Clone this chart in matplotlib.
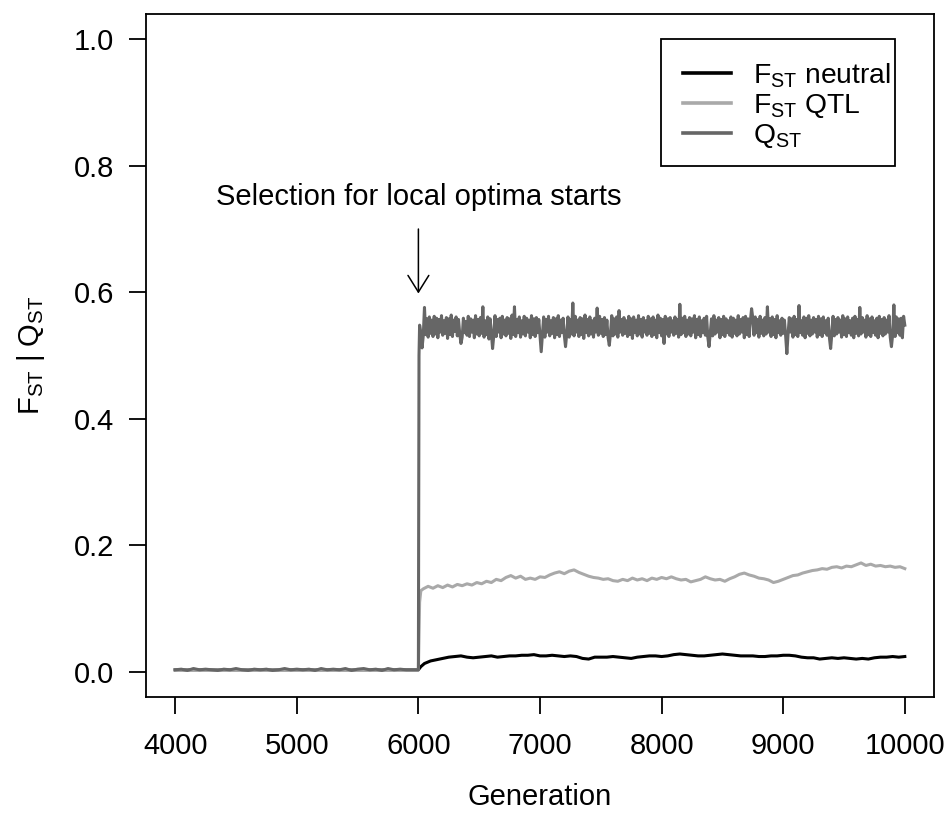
import numpy as np
import matplotlib
matplotlib.use("Agg")
import matplotlib.pyplot as plt
from matplotlib.patches import Rectangle

plt.rcParams['font.family'] = ['Liberation Sans', 'DejaVu Sans']
plt.rcParams['mathtext.fontset'] = 'custom'
plt.rcParams['mathtext.rm'] = 'Liberation Sans'
plt.rcParams['mathtext.it'] = 'Liberation Sans:italic'

# Values
# before selection: all three series sit near 0.003
pre_gen = [4000, 5000, 6000]
neutral_pre = [0.003, 0.003, 0.003]
qtl_pre = [0.003, 0.003, 0.003]

# neutral FST after 6000 (gen 6020, then every 50 generations from 6050)
neutral_jump = [0.008]
neutral_post = [0.013, 0.017, 0.019, 0.021, 0.023, 0.024, 0.025, 0.023, 0.022, 0.023,
                0.024, 0.025, 0.023, 0.024, 0.025, 0.025, 0.026, 0.026, 0.027, 0.025,
                0.025, 0.026, 0.025, 0.024, 0.025, 0.024, 0.021, 0.020, 0.023, 0.023,
                0.023, 0.024, 0.023, 0.022, 0.021, 0.023, 0.024, 0.025, 0.025, 0.024,
                0.025, 0.027, 0.028, 0.027, 0.026, 0.025, 0.025, 0.026, 0.027, 0.028,
                0.027, 0.026, 0.025, 0.025, 0.025, 0.024, 0.024, 0.025, 0.025, 0.026,
                0.026, 0.025, 0.023, 0.022, 0.022, 0.020, 0.021, 0.022, 0.021, 0.022,
                0.021, 0.020, 0.021, 0.020, 0.022, 0.023, 0.023, 0.024, 0.023, 0.024]

# FST QTL after 6000 (gens 6010, 6020, then every 40 generations from 6040)
qtl_jump = [0.110, 0.128]
qtl_post = [0.131, 0.135, 0.132, 0.136, 0.133, 0.137, 0.134, 0.138, 0.136, 0.139,
            0.137, 0.141, 0.139, 0.143, 0.141, 0.146, 0.144, 0.149, 0.152, 0.148,
            0.151, 0.146, 0.148, 0.146, 0.150, 0.149, 0.153, 0.156, 0.158, 0.155,
            0.159, 0.161, 0.157, 0.154, 0.151, 0.149, 0.148, 0.146, 0.147, 0.144,
            0.143, 0.146, 0.144, 0.148, 0.145, 0.147, 0.144, 0.148, 0.146, 0.149,
            0.147, 0.150, 0.147, 0.145, 0.146, 0.142, 0.144, 0.146, 0.150, 0.147,
            0.145, 0.146, 0.143, 0.147, 0.150, 0.154, 0.156, 0.153, 0.151, 0.148,
            0.147, 0.145, 0.141, 0.143, 0.146, 0.149, 0.152, 0.153, 0.156, 0.158,
            0.160, 0.161, 0.163, 0.162, 0.165, 0.166, 0.164, 0.167, 0.166, 0.169,
            0.172, 0.168, 0.170, 0.167, 0.168, 0.166, 0.167, 0.165, 0.166, 0.163]

# QST before 6000 (every 50 generations, in thousandths)
qst_pre_milli = [3, 4, 2, 5, 3, 4, 3, 2, 4, 3, 5, 3, 2, 4, 3, 4, 2, 3, 5, 3,
                 4, 3, 4, 2, 5, 3, 4, 3, 5, 2, 4, 5, 3, 4, 2, 5, 3, 4, 3, 3, 3]
qst_jump_milli = [500]                 # gen 6005
# QST after 6000 (every 10 generations from 6010 to 10000, in thousandths)
qst_post_milli = [
    548, 536, 512, 531, 576, 533, 558, 529, 561, 535,
    556, 530, 562, 534, 559, 528, 557, 537, 563, 532,
    555, 535, 560, 527, 558, 533, 564, 530, 556, 538,
    561, 531, 557, 534, 519, 529, 559, 536, 554, 532,
    562, 530, 558, 537, 556, 528, 563, 534, 557, 531,
    560, 535, 577, 529, 555, 533, 561, 526, 558, 536,
    511, 532, 563, 530, 557, 537, 559, 528, 562, 534,
    556, 531, 560, 535, 558, 527, 564, 533, 577, 530,
    557, 536, 561, 529, 555, 534, 562, 531, 559, 537,
    556, 528, 563, 533, 558, 530, 560, 536, 557, 532,
    506, 534, 561, 529, 557, 537, 562, 531, 555, 535,
    560, 528, 558, 533, 563, 530, 556, 536, 559, 532,
    514, 535, 561, 529, 557, 534, 583, 531, 562, 537,
    556, 530, 560, 533, 558, 527, 564, 536, 557, 531,
    561, 534, 555, 529, 559, 537, 575, 532, 562, 535,
    557, 530, 560, 533, 556, 528, 516, 536, 563, 531,
    558, 534, 561, 529, 571, 537, 557, 532, 560, 535,
    555, 530, 562, 533, 558, 527, 561, 536, 556, 531,
    563, 534, 557, 529, 560, 537, 555, 532, 562, 535,
    558, 530, 561, 533, 556, 528, 564, 536, 559, 531,
    557, 519, 562, 534, 558, 530, 560, 537, 555, 532,
    561, 535, 557, 529, 581, 533, 559, 536, 562, 530,
    556, 534, 560, 531, 558, 537, 563, 528, 557, 533,
    561, 530, 555, 536, 559, 532, 562, 529, 514, 535,
    558, 531, 563, 534, 556, 537, 560, 528, 557, 533,
    562, 530, 558, 536, 555, 532, 561, 529, 559, 535,
    556, 531, 563, 534, 557, 537, 560, 528, 562, 533,
    558, 530, 555, 574, 559, 532, 561, 536, 557, 529,
    562, 535, 556, 531, 560, 534, 577, 537, 558, 530,
    561, 533, 557, 528, 563, 536, 555, 532, 559, 535,
    556, 531, 503, 534, 560, 537, 558, 529, 562, 533,
    557, 530, 579, 536, 555, 532, 561, 528, 559, 535,
    563, 531, 556, 534, 560, 537, 557, 529, 562, 533,
    558, 530, 561, 536, 555, 532, 559, 528, 511, 535,
    562, 531, 557, 534, 560, 537, 556, 529, 563, 533,
    558, 530, 561, 536, 555, 532, 559, 528, 562, 535,
    557, 531, 576, 534, 560, 537, 556, 529, 563, 533,
    558, 530, 561, 536, 555, 532, 559, 528, 562, 535,
    557, 531, 560, 534, 556, 537, 563, 529, 514, 533,
    580, 530, 561, 536, 558, 532, 559, 528, 562, 548]

# assemble generation axes for each series
neutral_gen = pre_gen + [6020] + list(6050 + 50 * np.arange(len(neutral_post)))
neutral_val = neutral_pre + neutral_jump + neutral_post

qtl_gen = pre_gen + [6010, 6020] + list(6040 + 40 * np.arange(len(qtl_post)))
qtl_val = qtl_pre + qtl_jump + qtl_post

qst_gen = list(4000 + 50 * np.arange(len(qst_pre_milli))) + [6005] + \
    list(6010 + 10 * np.arange(len(qst_post_milli)))
qst_val = np.array(qst_pre_milli + qst_jump_milli + qst_post_milli) / 1000.0

fig = plt.figure(figsize=(9.48, 8.31), dpi=100)
ax = fig.add_axes([146 / 948, 1 - 697 / 831, 788 / 948, 683 / 831])

lw = 2.2
ax.plot(neutral_gen, neutral_val, color='black', lw=lw, label=r'$\mathrm{F_{ST}}$ neutral')
ax.plot(qtl_gen, qtl_val, color='#A9A9A9', lw=lw, label=r'$\mathrm{F_{ST}}$ QTL')
ax.plot(qst_gen, qst_val, color='#666666', lw=lw, label=r'$\mathrm{Q_{ST}}$')

ax.set_xlim(3760, 10240)
ax.set_ylim(-0.04, 1.04)
ax.set_xticks([4000, 5000, 6000, 7000, 8000, 9000, 10000])
ax.set_yticks([0.0, 0.2, 0.4, 0.6, 0.8, 1.0])
ax.set_yticklabels(['0.0', '0.2', '0.4', '0.6', '0.8', '1.0'])
ax.tick_params(labelsize=21, length=12, width=1.3, pad=13)
ax.tick_params(axis='y', pad=11)
for sp in ax.spines.values():
    sp.set_linewidth(1.3)

ax.set_xlabel('Generation', fontsize=21, labelpad=17)
ax.set_ylabel(r'$\mathrm{F_{ST}}$ | $\mathrm{Q_{ST}}$', fontsize=21, labelpad=19)

ax.text(6005, 0.75, 'Selection for local optima starts', fontsize=21,
        ha='center', va='center')
ax.annotate('', xy=(6000, 0.598), xytext=(6000, 0.70),
            arrowprops=dict(arrowstyle='->, head_length=0.4, head_width=0.25',
                            lw=1.1, color='black', mutation_scale=30,
                            shrinkA=0, shrinkB=0))

# legend entries without frame, frame drawn as its own box like R's legend
leg = ax.legend(loc='upper left', bbox_to_anchor=(0.6815, 0.931), borderaxespad=0,
                fontsize=20.3, frameon=False, handlelength=1.7,
                handletextpad=0.78, labelspacing=0.08, borderpad=0)
for line in leg.get_lines():
    line.set_linewidth(2.6)
ax.add_patch(Rectangle((0.6536, 0.7775), 0.2969, 0.1859, transform=ax.transAxes,
                       fill=False, ec='black', lw=1.3, zorder=5))

fig.savefig('out.png', dpi=100)
